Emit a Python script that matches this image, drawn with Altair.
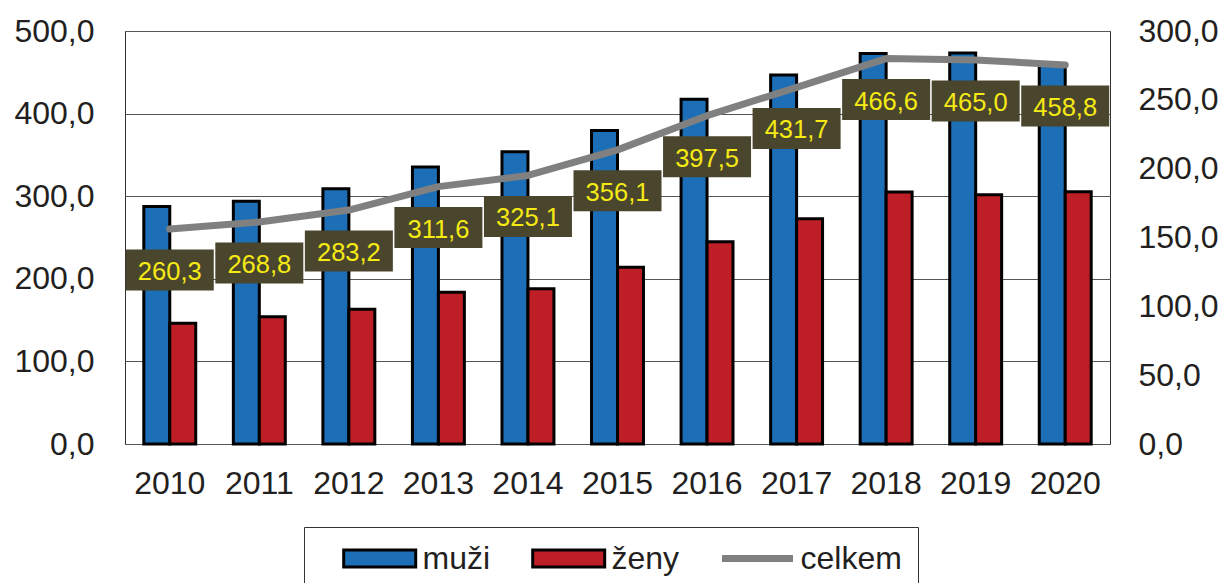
import altair as alt
import pandas as pd

years = ["2010", "2011", "2012", "2013", "2014", "2015", "2016", "2017", "2018", "2019", "2020"]
muzi = [172.6, 176.3, 185.4, 201.3, 212.3, 227.8, 250.5, 268.0, 283.6, 284.0, 275.6]
zeny = [87.7, 92.5, 97.8, 110.3, 112.8, 128.3, 147.0, 163.7, 183.0, 181.0, 183.2]
celkem = [260.3, 268.8, 283.2, 311.6, 325.1, 356.1, 397.5, 431.7, 466.6, 465.0, 458.8]

series_names = ["muži", "ženy", "celkem"]
series_colors = ["#1C6FB7", "#BE1F26", "#808080"]
left_ticks = [0, 100, 200, 300, 400, 500]
right_ticks = [0, 50, 100, 150, 200, 250, 300]

bars_df = pd.DataFrame({
    "rok": years * 2,
    "serie": ["muži"] * len(years) + ["ženy"] * len(years),
    "hodnota": muzi + zeny,
})
total_df = pd.DataFrame({"rok": years, "celkem": celkem})

FONT = "Liberation Sans"
TXT = "#231F20"
fmt = "replace(format(datum.value, '.1f'), '.', ',')"

color_scale = alt.Scale(domain=series_names, range=series_colors)

legend = alt.Legend(
    title=None, orient="none", legendX=179, legendY=496, direction="horizontal",
    labelFontSize=32, labelFont=FONT, labelColor=TXT,
    labelOffset=71, columnPadding=18,
    symbolSize=400,
    symbolType={"expr": "datum.value === 'celkem' ? 'M0.85,0H7.95' : 'M0.82,-0.85H8.02V0.85H0.82Z'"},
    symbolStrokeColor={"expr": "datum.value === 'celkem' ? '#808080' : '#000000'"},
    symbolStrokeWidth={"expr": "datum.value === 'celkem' ? 7 : 3"},
    symbolOpacity=1,
    padding=15.5, strokeColor="#333333", fillColor="white",
)

x_enc = alt.X(
    "rok:N",
    scale=alt.Scale(paddingInner=0.42, paddingOuter=0.21),
    axis=alt.Axis(title=None, labelAngle=0, labelFontSize=32, labelFont=FONT, labelColor=TXT,
                  labelPadding=24, ticks=False, domain=False),
)

bars = alt.Chart(bars_df).mark_bar(stroke="black", strokeWidth=3, opacity=1).encode(
    x=x_enc,
    xOffset=alt.XOffset("serie:N", scale=alt.Scale(domain=["muži", "ženy"], paddingInner=0, paddingOuter=0)),
    y=alt.Y("hodnota:Q", scale=alt.Scale(domain=[0, 300], nice=False),
            axis=alt.Axis(orient="right", title=None, values=right_ticks, grid=False, ticks=False,
                          domain=False, labelExpr=fmt, labelFontSize=32, labelFont=FONT,
                          labelColor=TXT, labelPadding=28)),
    color=alt.Color("serie:N", scale=color_scale, legend=legend),
)

y_left = alt.Y("celkem:Q", scale=alt.Scale(domain=[0, 500], nice=False),
               axis=alt.Axis(orient="left", title=None, values=left_ticks, grid=True, gridColor="#555555",
                             gridWidth=1, ticks=False, domain=False, labelExpr=fmt, labelFontSize=32,
                             labelFont=FONT, labelColor=TXT, labelPadding=31))

line = alt.Chart(total_df).mark_line(
    color=series_colors[2], strokeWidth=7, strokeCap="round", strokeJoin="round"
).encode(
    x=alt.X("rok:N"),
    y=y_left,
)

box_shape = "M-1,-0.466H1V0.466H-1Z"
boxes = alt.Chart(total_df).mark_point(
    shape=box_shape, size=7744, filled=True, fill="#4A452D", opacity=1, strokeWidth=0, yOffset=41
).encode(
    x=alt.X("rok:N"),
    y=y_left,
)

labels = alt.Chart(total_df).transform_calculate(
    lbl="replace(format(datum.celkem, '.1f'), '.', ',')"
).mark_text(fontSize=25.5, font=FONT, color="#F5EA14", dy=43, baseline="middle", align="center").encode(
    x=alt.X("rok:N"),
    y=y_left,
    text="lbl:N",
)

chart = alt.layer(bars, alt.layer(line, boxes, labels)).resolve_scale(y="independent").properties(
    width=985, height=413,
    autosize=alt.AutoSizeParams(type="none"),
    padding={"left": 117, "top": 23, "right": 109, "bottom": 139},
    background="white",
).configure_view(stroke="#333333", strokeWidth=1)

chart.save("out.html", embed_options={"renderer": "svg", "actions": False})
